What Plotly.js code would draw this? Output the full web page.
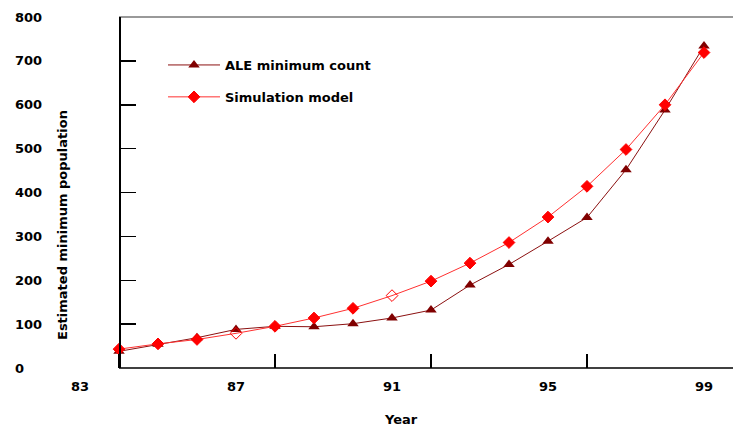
<!DOCTYPE html>
<html>
<head>
<meta charset="utf-8">
<script src="https://cdn.plot.ly/plotly-3.0.1.min.js"></script>
<style>html,body{margin:0;padding:0;background:#fff;}#chart{width:733px;height:429px;}</style>
</head>
<body>
<div id="chart"></div>
<script>
// ---- data ----
const years = [84, 85, 86, 87, 88, 89, 90, 91, 92, 93, 94, 95, 96, 97, 98, 99];
const aleCount = [38, 54, 69, 88, 95, 94, 101, 114, 132, 189, 236, 289, 343, 452, 588, 734];
const simModel = [43, 55, 65, 79, 95, 114, 136, 165, 198, 239, 286, 344, 414, 498, 600, 719];
const simHollowYears = [87, 91];
const seriesNames = ['ALE minimum count', 'Simulation model'];
const yTickValues = [0, 100, 200, 300, 400, 500, 600, 700, 800];
const xLabelYears = [83, 87, 91, 95, 99];
const xTickYears = [84, 88, 92, 96];
const xTitle = 'Year';
const yTitle = 'Estimated minimum population';

// ---- layout geometry ----
const W = 733, H = 429;
const plotLeftPx = 119;
const pxPerYear = 39;
const xStart = 84;
const xEnd = xStart + (W - plotLeftPx) / pxPerYear;
const xPaperStart = xStart - plotLeftPx / pxPerYear;
const axisPos = plotLeftPx / W;

const fontFam = 'DejaVu Sans, Arial, sans-serif';
const bold = {family: fontFam, size: 13, color: '#000', weight: 'bold'};

const traces = [
  {
    x: years, y: aleCount, name: seriesNames[0], type: 'scatter', mode: 'lines+markers',
    xaxis: 'x', yaxis: 'y',
    line: {color: '#8b1010', width: 1},
    marker: {symbol: 'triangle-up', size: 10, color: '#800000'},
    legendgroup: 'a', cliponaxis: false
  },
  {
    x: years, y: simModel, name: seriesNames[1], type: 'scatter', mode: 'lines+markers',
    xaxis: 'x2', yaxis: 'y2',
    line: {color: '#ff3030', width: 1},
    marker: {
      symbol: years.map(y => simHollowYears.includes(y) ? 'diamond-open' : 'diamond'),
      size: 9, color: '#ff0000', line: {color: '#ff0000', width: 1}
    },
    legendgroup: 'b', cliponaxis: false
  }
];

const layout = {
  width: W, height: H,
  margin: {l: 0, r: 0, t: 17, b: 61},
  paper_bgcolor: '#fff', plot_bgcolor: 'rgba(0,0,0,0)',
  showlegend: true,
  legend: {
    x: 163 / W, y: 0.906, xanchor: 'left', yanchor: 'top',
    font: bold, bgcolor: 'rgba(0,0,0,0)', borderwidth: 0,
    traceorder: 'grouped', tracegroupgap: 12, itemwidth: 52
  },
  // full-width axis carrying the year labels
  xaxis: {
    domain: [0, 1], range: [xPaperStart, xEnd], anchor: 'y',
    showline: false, ticks: '', tickvals: xLabelYears, ticktext: xLabelYears.map(String),
    tickfont: bold, ticklabelstandoff: 9,
    showgrid: false, zeroline: false, fixedrange: true
  },
  // same scale, carries inward tick marks
  xaxis2: {
    overlaying: 'x', range: [xPaperStart, xEnd], anchor: 'y',
    showline: false, ticks: 'inside', ticklen: 14, tickcolor: '#000', tickwidth: 1.5,
    tickvals: xTickYears, showticklabels: false,
    showgrid: false, zeroline: false, fixedrange: true
  },
  yaxis: {
    range: [0, 800], anchor: 'free', position: axisPos, side: 'left',
    showline: true, linecolor: '#000', linewidth: 1.5,
    ticks: 'inside', ticklen: 15, tickcolor: '#000', tickwidth: 1.5,
    tickvals: yTickValues, showticklabels: false,
    showgrid: false, zeroline: false, fixedrange: true
  },
  yaxis2: {
    range: [0, 800], overlaying: 'y', anchor: 'free', position: 0.019, side: 'right',
    showline: false, ticks: '', tickvals: yTickValues, ticktext: yTickValues.map(String),
    tickfont: bold, showgrid: false, zeroline: false, fixedrange: true
  },
  shapes: [
    {type: 'line', xref: 'paper', yref: 'paper', x0: axisPos, x1: 1, y0: 1, y1: 1,
     line: {color: '#777', width: 1.5}, layer: 'below'},
    {type: 'line', xref: 'paper', yref: 'paper', x0: axisPos, x1: 1, y0: 0, y1: 0,
     line: {color: '#000', width: 1.5}, layer: 'above'}
  ],
  annotations: [
    {text: yTitle, xref: 'paper', yref: 'paper', x: 62 / W, y: (368 - 225) / 351,
     xanchor: 'center', yanchor: 'middle', textangle: -90, showarrow: false, font: bold},
    {text: xTitle, xref: 'paper', yref: 'paper', x: 401 / W, y: (368 - 419) / 351,
     xanchor: 'center', yanchor: 'middle', showarrow: false, font: bold}
  ]
};

Plotly.newPlot('chart', traces, layout, {displayModeBar: false, staticPlot: true});
</script>
</body>
</html>
